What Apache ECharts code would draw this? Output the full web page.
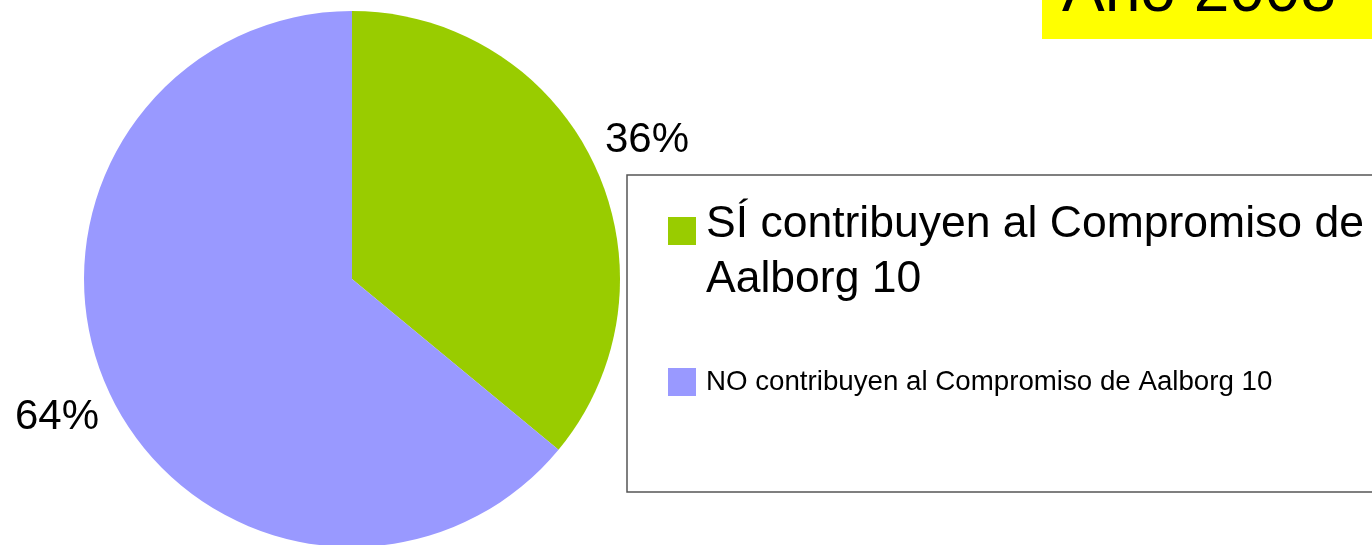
<!DOCTYPE html>
<html>
<head>
<meta charset="utf-8">
<title>Año 2008</title>
<script src="https://cdn.jsdelivr.net/npm/echarts@6/dist/echarts.min.js"></script>
<style>
    html, body { margin: 0; padding: 0; background: #fff; }
    #main { width: 1372px; height: 545px; }
</style>
</head>
<body>
<div id="main"></div>
<script type="text/javascript">
    // datos del grafico
    var categories = ['SÍ contribuyen al Compromiso de Aalborg 10', 'NO contribuyen al Compromiso de Aalborg 10'];
    var legendLabels = ['{gap| }\n{big|SÍ contribuyen al Compromiso de}\n{big|Aalborg 10}', 'NO contribuyen al Compromiso de Aalborg 10'];
    var values = [36, 64];
    var colors = ['#99CC00', '#9999FF'];

    var font = 'Liberation Sans, Arial, sans-serif';

    var pieData = [];
    for (var i = 0; i < categories.length; i++) {
        pieData.push({ name: categories[i], value: values[i], itemStyle: { color: colors[i] } });
    }

    var myChart = echarts.init(document.getElementById('main'));

    var option = {
        animation: false,
        title: {
            text: 'Año 2008',
            left: 1042,
            top: -49,
            padding: [10, 60, 14, 20],
            backgroundColor: '#FFFF00',
            textStyle: {
                fontSize: 64,
                lineHeight: 64,
                fontWeight: 'normal',
                color: '#000',
                fontFamily: font
            }
        },
        legend: {
            orient: 'vertical',
            left: 668,
            top: 171,
            padding: 0,
            itemWidth: 28,
            itemHeight: 28,
            itemGap: 64,
            icon: 'rect',
            selectedMode: false,
            data: [
                { name: categories[0] },
                { name: categories[1], textStyle: { fontSize: 27.7, lineHeight: 32 } }
            ],
            formatter: function (name) {
                return legendLabels[categories.indexOf(name)];
            },
            textStyle: {
                color: '#000',
                fontFamily: font,
                padding: [0, 0, 0, 5],
                rich: {
                    // linea vacia para alinear el cuadro con la primera linea
                    gap: { fontSize: 10, lineHeight: 42 },
                    big: { fontSize: 44.5, lineHeight: 55, color: '#000', fontFamily: font }
                }
            }
        },
        // marco de la leyenda
        graphic: [
            {
                type: 'rect',
                z: -1,
                shape: { x: 627, y: 175, width: 800, height: 317 },
                style: { fill: 'none', stroke: '#555', lineWidth: 1.5 }
            }
        ],
        series: [
            {
                type: 'pie',
                center: [352, 279],
                radius: 268,
                startAngle: 90,
                clockwise: true,
                avoidLabelOverlap: false,
                itemStyle: { borderWidth: 0 },
                emphasis: { disabled: true },
                label: {
                    show: true,
                    position: 'outside',
                    formatter: '{c}%',
                    fontSize: 42,
                    color: '#000',
                    fontFamily: font,
                    width: 100,
                    distanceToLabelLine: 0,
                    edgeDistance: 0
                },
                labelLine: {
                    show: true,
                    length: 58,
                    length2: 0,
                    lineStyle: { opacity: 0 }
                },
                labelLayout: function () {
                    return { align: 'center' };
                },
                data: pieData
            }
        ]
    };

    myChart.setOption(option);
</script>
</body>
</html>
